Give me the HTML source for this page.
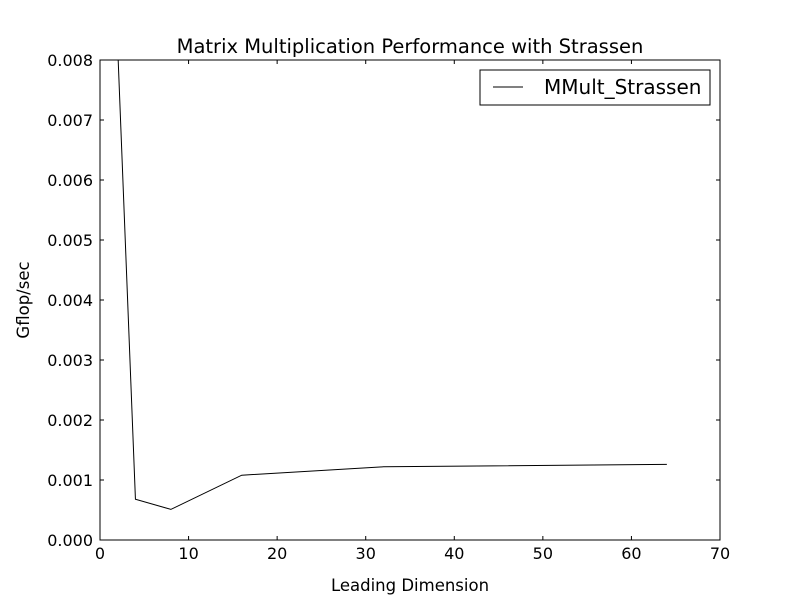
<!DOCTYPE html>
<html><head><meta charset="utf-8"><style>
body{margin:0;background:#fff;}
svg text{font-family:"DejaVu Sans","Liberation Sans",sans-serif;}
</style></head><body>
<svg id="chart" width="800" height="600" xmlns="http://www.w3.org/2000/svg">
<rect width="800" height="600" fill="#fff"/>
<defs><clipPath id="plotclip"><rect x="100" y="60" width="620" height="480"/></clipPath></defs>
<text x="410" y="53" text-anchor="middle" font-size="19.5">Matrix Multiplication Performance with Strassen</text>
<g id="ticks"></g>
<g clip-path="url(#plotclip)"><path id="series" fill="none" stroke="#000" stroke-width="1"/></g>
<rect x="100" y="60" width="620" height="480" fill="none" stroke="#000" stroke-width="1"/>
<text x="410" y="591" text-anchor="middle" font-size="16.5">Leading Dimension</text>
<text transform="translate(29,300) rotate(-90)" text-anchor="middle" font-size="16.5">Gflop/sec</text>
<g>
<rect x="480" y="70" width="230" height="35" fill="#fff" stroke="#000" stroke-width="1"/>
<line x1="493" y1="87" x2="523" y2="87" stroke="#000"/>
<text x="544" y="94" font-size="20">MMult_Strassen</text>
</g>
</svg>
<script>
const xValues = [2, 4, 8, 16, 32, 64];
const yValues = [0.0082, 0.00068, 0.00051, 0.00108, 0.00122, 0.00126];
const xTicks = [0, 10, 20, 30, 40, 50, 60, 70];
const yTicks = [0.000, 0.001, 0.002, 0.003, 0.004, 0.005, 0.006, 0.007, 0.008];
const L=100,R=720,T=60,B=540;
function sx(v){return L+(v-0)/(70-0)*(R-L);}
function sy(v){return B-(v-0)/(0.008-0)*(B-T);}
const NS='http://www.w3.org/2000/svg';
const g=document.getElementById('ticks');
function mk(tag,attrs){const e=document.createElementNS(NS,tag);for(const k in attrs)e.setAttribute(k,attrs[k]);g.appendChild(e);return e;}
xTicks.forEach(t=>{const x=sx(t);
 let a=mk('line',{x1:x,y1:B,x2:x,y2:B-4,stroke:'#000'});
 
 
 let b=mk('line',{x1:x,y1:T,x2:x,y2:T+4,stroke:'#000'});
 
 
 let tx=mk('text',{x:x,y:B+19,'text-anchor':'middle','font-size':'16'});tx.textContent=String(t);
 
 
});
yTicks.forEach(t=>{const y=sy(t);
 let a=mk('line',{x1:L,y1:y,x2:L+4,y2:y,stroke:'#000'});
 
 
 let b=mk('line',{x1:R,y1:y,x2:R-4,y2:y,stroke:'#000'});
 
 
 let tx=mk('text',{x:L-7,y:y+6,'text-anchor':'end','font-size':'16'});tx.textContent=t.toFixed(3);
 
 
});
document.getElementById('series').setAttribute('d',xValues.map((v,i)=>(i?'L':'M')+sx(v).toFixed(2)+','+sy(yValues[i]).toFixed(2)).join(' '));
</script>
</body></html>
